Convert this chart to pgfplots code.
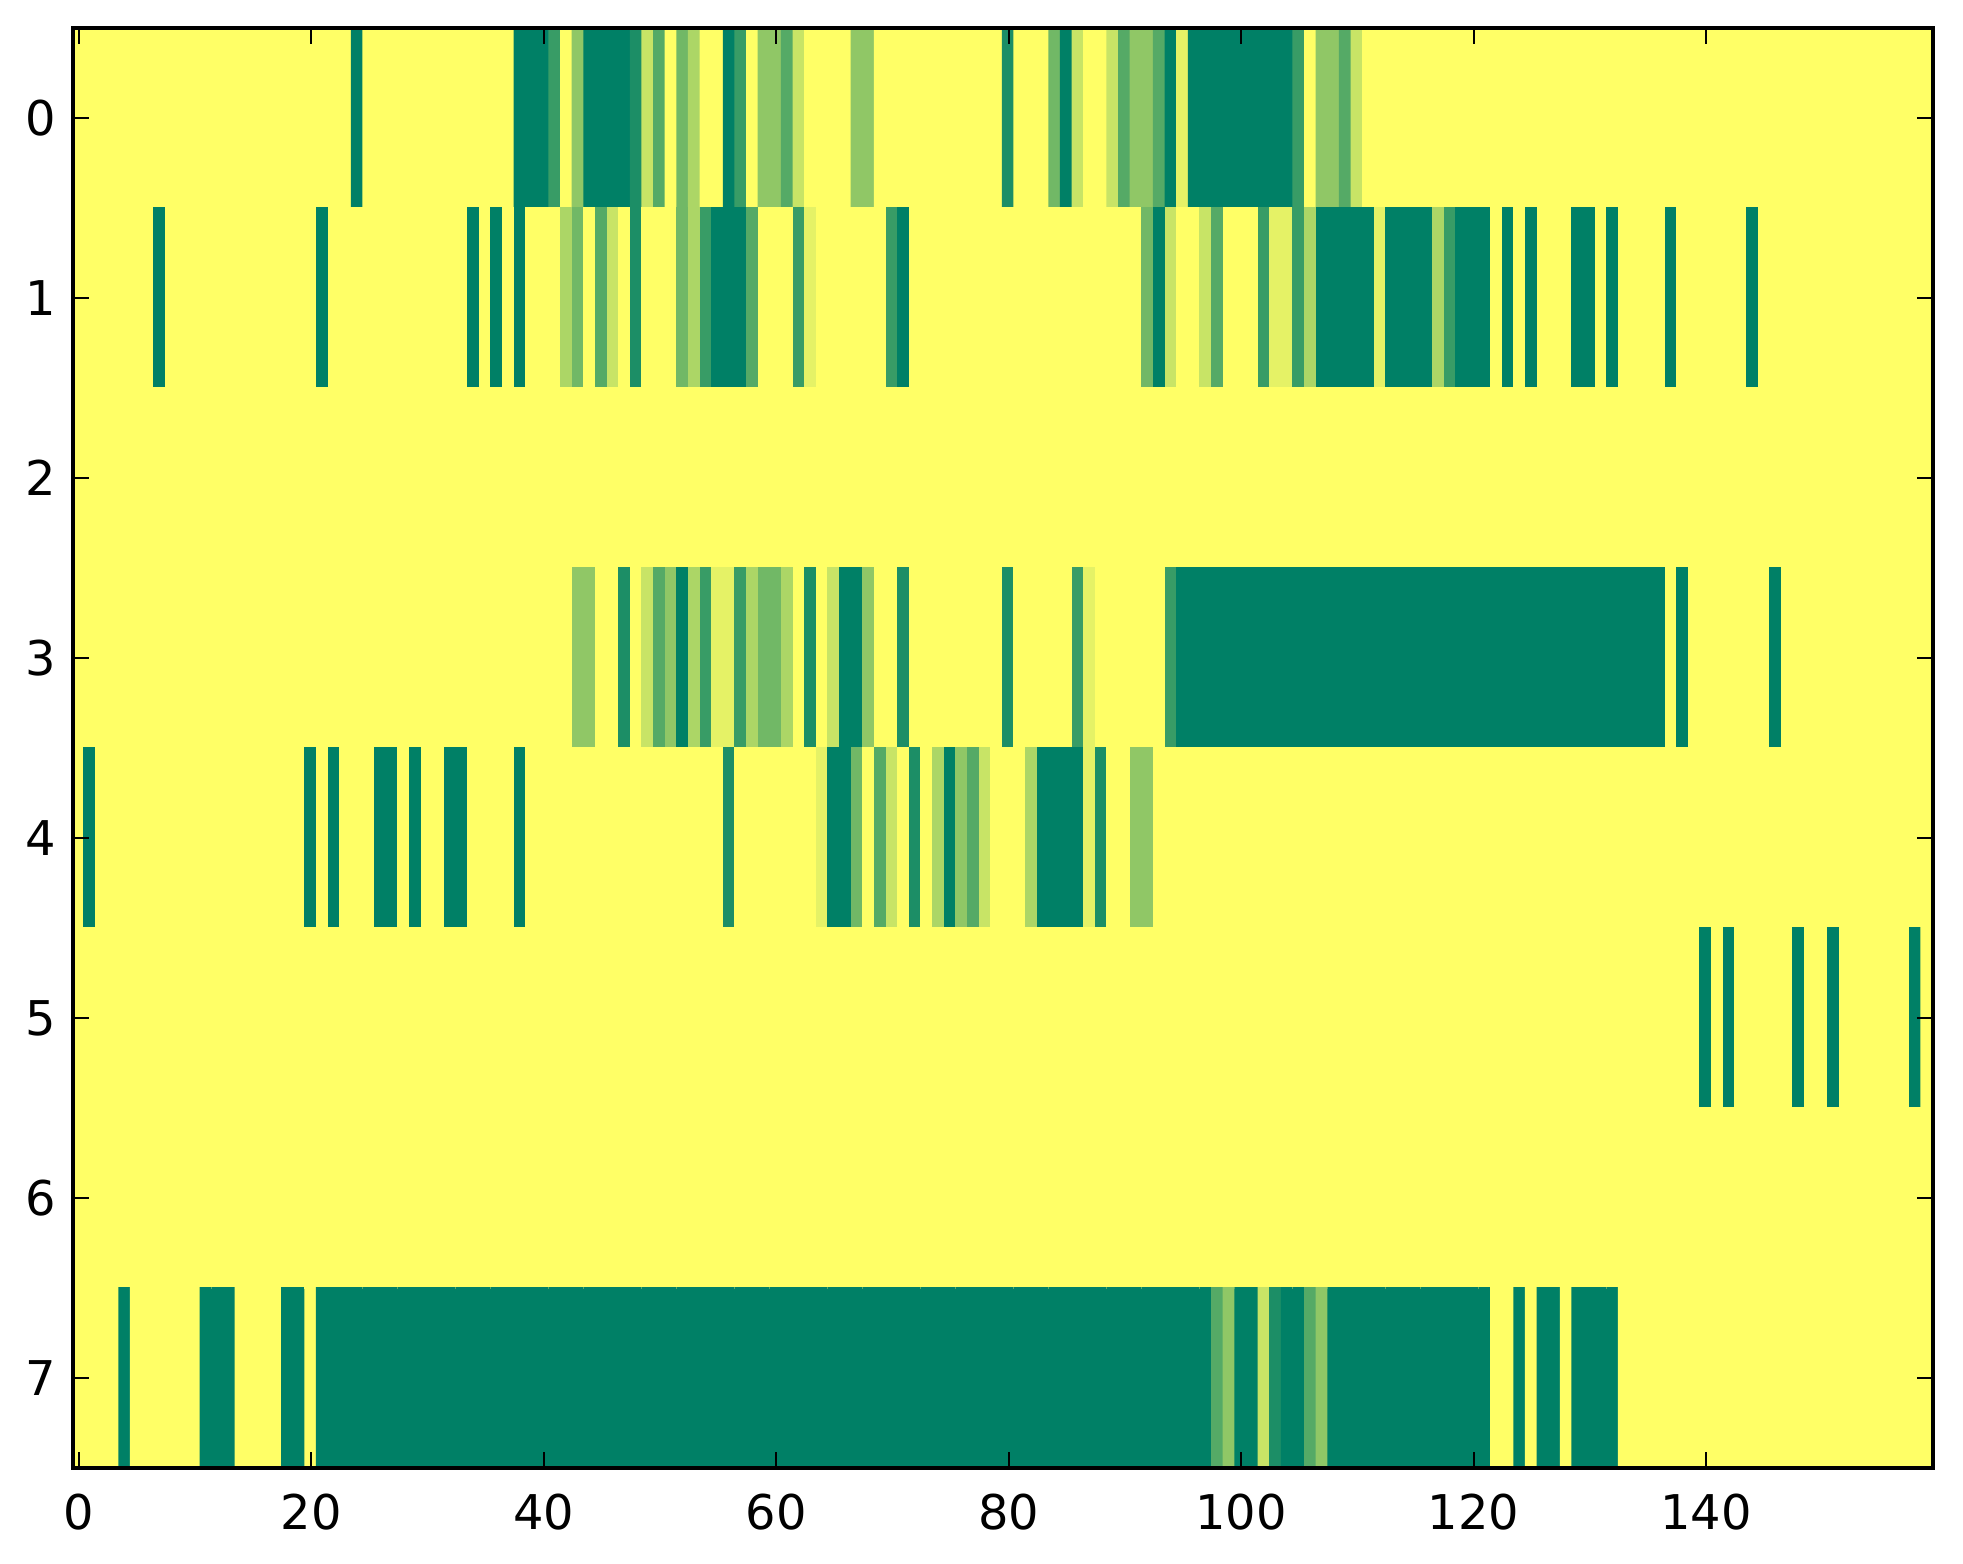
\documentclass[border=0pt]{standalone}
\usepackage{fontspec}
\setmainfont{DejaVu Sans}
\usepackage{pgfplots}
\pgfplotsset{compat=1.18}
\begin{document}
\begin{tikzpicture}
\begin{axis}[
  at={(0,0)}, anchor=south west,
  scale only axis, width=388.5pt, height=300.7pt,
  xmin=-0.5, xmax=159.5, ymin=-0.5, ymax=7.5, y dir=reverse,
  enlargelimits=false, axis on top,
  colormap={summer}{rgb=(0,0.5,0.4) rgb=(1,1,0.4)},
  point meta min=0, point meta max=1,
  xtick={0,20,...,140}, ytick={0,1,...,7},
  xtick pos=both, ytick pos=both, tick align=inside,
  major tick length=3.3pt,
  every tick/.style={black, line width=0.45pt},
  axis line style={line width=0.8pt},
  /pgf/number format/assume math mode=true,
  tick label style={font=\fontsize{10}{12}\selectfont},
  xticklabel style={yshift=-1.8pt},
]
\addplot[matrix plot*, mesh/cols=160, mesh/rows=8, mesh/ordering=x varies, point meta=explicit]
 table[row sep=\\, header=false, x expr={mod(\coordindex,160)}, y expr={floor(\coordindex/160)}, meta index=0] {
1\\1\\1\\1\\1\\1\\1\\1\\1\\1\\ 1\\1\\1\\1\\1\\1\\1\\1\\1\\1\\ 1\\1\\1\\1\\0\\1\\1\\1\\1\\1\\ 1\\1\\1\\1\\1\\1\\1\\1\\0\\0\\ 0\\0.22\\1\\0.56\\0\\0\\0\\0\\0.11\\0.78\\ 0.33\\1\\0.44\\0.67\\1\\1\\0\\0.22\\1\\0.56\\ 0.56\\0.33\\0.78\\1\\1\\1\\1\\0.56\\0.56\\1\\ 1\\1\\1\\1\\1\\1\\1\\1\\1\\1\\ 0.11\\1\\1\\1\\0.44\\0\\0.78\\1\\1\\0.78\\ 0.33\\0.56\\0.56\\0.33\\0\\0.89\\0\\0\\0\\0\\ 0\\0\\0\\0\\0\\0.22\\1\\0.56\\0.56\\0.33\\ 0.78\\1\\1\\1\\1\\1\\1\\1\\1\\1\\ 1\\1\\1\\1\\1\\1\\1\\1\\1\\1\\ 1\\1\\1\\1\\1\\1\\1\\1\\1\\1\\ 1\\1\\1\\1\\1\\1\\1\\1\\1\\1\\ 1\\1\\1\\1\\1\\1\\1\\1\\1\\1\\
1\\1\\1\\1\\1\\1\\1\\0\\1\\1\\ 1\\1\\1\\1\\1\\1\\1\\1\\1\\1\\ 1\\0\\1\\1\\1\\1\\1\\1\\1\\1\\ 1\\1\\1\\1\\0\\1\\0\\1\\0\\1\\ 1\\1\\0.67\\0.44\\1\\0.33\\0.78\\1\\0.11\\1\\ 1\\1\\0.44\\0.67\\0.22\\0\\0\\0\\0.33\\1\\ 1\\1\\0.22\\0.89\\1\\1\\1\\1\\1\\1\\ 0.22\\0\\1\\1\\1\\1\\1\\1\\1\\1\\ 1\\1\\1\\1\\1\\1\\1\\1\\1\\1\\ 1\\1\\0.44\\0\\0.78\\1\\1\\0.78\\0.33\\1\\ 1\\1\\0.22\\0.89\\0.89\\0.22\\0.67\\0\\0\\0\\ 0\\0\\0.89\\0\\0\\0\\0\\0.67\\0.22\\0\\ 0\\0\\1\\0\\1\\0\\1\\1\\1\\0\\ 0\\1\\0\\1\\1\\1\\1\\0\\1\\1\\ 1\\1\\1\\1\\0\\1\\1\\1\\1\\1\\ 1\\1\\1\\1\\1\\1\\1\\1\\1\\1\\
1\\1\\1\\1\\1\\1\\1\\1\\1\\1\\ 1\\1\\1\\1\\1\\1\\1\\1\\1\\1\\ 1\\1\\1\\1\\1\\1\\1\\1\\1\\1\\ 1\\1\\1\\1\\1\\1\\1\\1\\1\\1\\ 1\\1\\1\\1\\1\\1\\1\\1\\1\\1\\ 1\\1\\1\\1\\1\\1\\1\\1\\1\\1\\ 1\\1\\1\\1\\1\\1\\1\\1\\1\\1\\ 1\\1\\1\\1\\1\\1\\1\\1\\1\\1\\ 1\\1\\1\\1\\1\\1\\1\\1\\1\\1\\ 1\\1\\1\\1\\1\\1\\1\\1\\1\\1\\ 1\\1\\1\\1\\1\\1\\1\\1\\1\\1\\ 1\\1\\1\\1\\1\\1\\1\\1\\1\\1\\ 1\\1\\1\\1\\1\\1\\1\\1\\1\\1\\ 1\\1\\1\\1\\1\\1\\1\\1\\1\\1\\ 1\\1\\1\\1\\1\\1\\1\\1\\1\\1\\ 1\\1\\1\\1\\1\\1\\1\\1\\1\\1\\
1\\1\\1\\1\\1\\1\\1\\1\\1\\1\\ 1\\1\\1\\1\\1\\1\\1\\1\\1\\1\\ 1\\1\\1\\1\\1\\1\\1\\1\\1\\1\\ 1\\1\\1\\1\\1\\1\\1\\1\\1\\1\\ 1\\1\\1\\0.56\\0.56\\1\\1\\0.11\\1\\0.78\\ 0.33\\0.56\\0\\0.67\\0.22\\0.89\\0.89\\0.22\\0.67\\0.44\\ 0.44\\0.67\\1\\0.11\\1\\0.78\\0\\0\\0.56\\1\\ 1\\0.11\\1\\1\\1\\1\\1\\1\\1\\1\\ 0.11\\1\\1\\1\\1\\1\\0.22\\0.89\\1\\1\\ 1\\1\\1\\1\\0.22\\0\\0\\0\\0\\0\\ 0\\0\\0\\0\\0\\0\\0\\0\\0\\0\\ 0\\0\\0\\0\\0\\0\\0\\0\\0\\0\\ 0\\0\\0\\0\\0\\0\\0\\0\\0\\0\\ 0\\0\\0\\0\\0\\0\\0\\1\\0\\1\\ 1\\1\\1\\1\\1\\1\\0\\1\\1\\1\\ 1\\1\\1\\1\\1\\1\\1\\1\\1\\1\\
1\\0\\1\\1\\1\\1\\1\\1\\1\\1\\ 1\\1\\1\\1\\1\\1\\1\\1\\1\\1\\ 0\\1\\0\\1\\1\\1\\0\\0\\1\\0\\ 1\\1\\0\\0\\1\\1\\1\\1\\0\\1\\ 1\\1\\1\\1\\1\\1\\1\\1\\1\\1\\ 1\\1\\1\\1\\1\\1\\0.11\\1\\1\\1\\ 1\\1\\1\\1\\0.89\\0\\0\\0.44\\1\\0.33\\ 0.78\\1\\0.11\\1\\0.67\\0\\0.56\\0.33\\0.78\\1\\ 1\\1\\0.67\\0\\0\\0\\0\\0.89\\0.11\\1\\ 1\\0.56\\0.56\\1\\1\\1\\1\\1\\1\\1\\ 1\\1\\1\\1\\1\\1\\1\\1\\1\\1\\ 1\\1\\1\\1\\1\\1\\1\\1\\1\\1\\ 1\\1\\1\\1\\1\\1\\1\\1\\1\\1\\ 1\\1\\1\\1\\1\\1\\1\\1\\1\\1\\ 1\\1\\1\\1\\1\\1\\1\\1\\1\\1\\ 1\\1\\1\\1\\1\\1\\1\\1\\1\\1\\
1\\1\\1\\1\\1\\1\\1\\1\\1\\1\\ 1\\1\\1\\1\\1\\1\\1\\1\\1\\1\\ 1\\1\\1\\1\\1\\1\\1\\1\\1\\1\\ 1\\1\\1\\1\\1\\1\\1\\1\\1\\1\\ 1\\1\\1\\1\\1\\1\\1\\1\\1\\1\\ 1\\1\\1\\1\\1\\1\\1\\1\\1\\1\\ 1\\1\\1\\1\\1\\1\\1\\1\\1\\1\\ 1\\1\\1\\1\\1\\1\\1\\1\\1\\1\\ 1\\1\\1\\1\\1\\1\\1\\1\\1\\1\\ 1\\1\\1\\1\\1\\1\\1\\1\\1\\1\\ 1\\1\\1\\1\\1\\1\\1\\1\\1\\1\\ 1\\1\\1\\1\\1\\1\\1\\1\\1\\1\\ 1\\1\\1\\1\\1\\1\\1\\1\\1\\1\\ 1\\1\\1\\1\\1\\1\\1\\1\\1\\1\\ 0\\1\\0\\1\\1\\1\\1\\1\\0\\1\\ 1\\0\\1\\1\\1\\1\\1\\1\\0\\1\\
1\\1\\1\\1\\1\\1\\1\\1\\1\\1\\ 1\\1\\1\\1\\1\\1\\1\\1\\1\\1\\ 1\\1\\1\\1\\1\\1\\1\\1\\1\\1\\ 1\\1\\1\\1\\1\\1\\1\\1\\1\\1\\ 1\\1\\1\\1\\1\\1\\1\\1\\1\\1\\ 1\\1\\1\\1\\1\\1\\1\\1\\1\\1\\ 1\\1\\1\\1\\1\\1\\1\\1\\1\\1\\ 1\\1\\1\\1\\1\\1\\1\\1\\1\\1\\ 1\\1\\1\\1\\1\\1\\1\\1\\1\\1\\ 1\\1\\1\\1\\1\\1\\1\\1\\1\\1\\ 1\\1\\1\\1\\1\\1\\1\\1\\1\\1\\ 1\\1\\1\\1\\1\\1\\1\\1\\1\\1\\ 1\\1\\1\\1\\1\\1\\1\\1\\1\\1\\ 1\\1\\1\\1\\1\\1\\1\\1\\1\\1\\ 1\\1\\1\\1\\1\\1\\1\\1\\1\\1\\ 1\\1\\1\\1\\1\\1\\1\\1\\1\\1\\
1\\1\\1\\1\\0\\1\\1\\1\\1\\1\\ 1\\0\\0\\0\\1\\1\\1\\1\\0\\0\\ 1\\0\\0\\0\\0\\0\\0\\0\\0\\0\\ 0\\0\\0\\0\\0\\0\\0\\0\\0\\0\\ 0\\0\\0\\0\\0\\0\\0\\0\\0\\0\\ 0\\0\\0\\0\\0\\0\\0\\0\\0\\0\\ 0\\0\\0\\0\\0\\0\\0\\0\\0\\0\\ 0\\0\\0\\0\\0\\0\\0\\0\\0\\0\\ 0\\0\\0\\0\\0\\0\\0\\0\\0\\0\\ 0\\0\\0\\0\\0\\0\\0\\0\\0.33\\0.56\\ 0\\0\\0.78\\0.11\\0\\0\\0.33\\0.56\\0\\0\\ 0\\0\\0\\0\\0\\0\\0\\0\\0\\0\\ 0\\0\\1\\1\\0\\1\\0\\0\\1\\0\\ 0\\0\\0\\1\\1\\1\\1\\1\\1\\1\\ 1\\1\\1\\1\\1\\1\\1\\1\\1\\1\\ 1\\1\\1\\1\\1\\1\\1\\1\\1\\1\\
};
\end{axis}
\pgfresetboundingbox
\path (-15.2pt,-20.05pt) rectangle (394.8pt,306.6pt);
\end{tikzpicture}
\end{document}
